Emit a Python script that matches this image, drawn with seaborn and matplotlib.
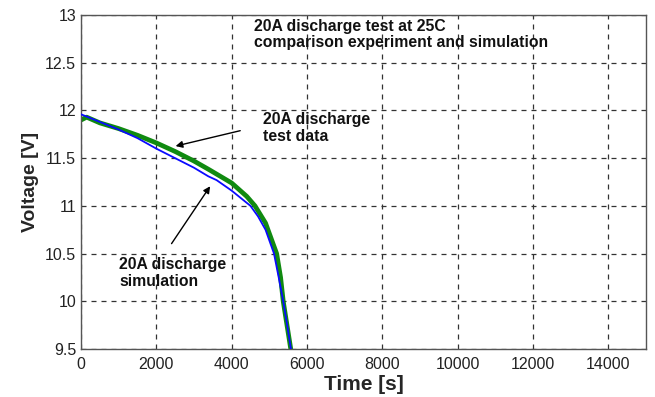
import matplotlib
matplotlib.use("Agg")
import matplotlib.pyplot as plt
import seaborn as sns
import pandas as pd

# Simulation (blue)
sim_time = [0, 500, 1000, 1500, 2000, 2500, 3000, 3380, 3600, 4000, 4500, 4700, 4900, 5125, 5250, 5370, 5475, 5575]
sim_volt = [11.96, 11.88, 11.80, 11.71, 11.60, 11.50, 11.40, 11.31, 11.27, 11.16, 11.00, 10.89, 10.75, 10.50, 10.25, 10.00, 9.75, 9.50]

# Test data (green)
test_time = [0, 150, 500, 1000, 1500, 2000, 2500, 3000, 3400, 4000, 4400, 4620, 4900, 5195, 5300, 5370, 5470, 5570]
test_volt = [11.90, 11.93, 11.87, 11.81, 11.74, 11.66, 11.57, 11.47, 11.38, 11.24, 11.10, 11.00, 10.82, 10.50, 10.25, 10.00, 9.75, 9.50]

x_ticks = [0, 2000, 4000, 6000, 8000, 10000, 12000, 14000]
y_ticks = [9.5, 10, 10.5, 11, 11.5, 12, 12.5, 13]
y_tick_labels = ["9.5", "10", "10.5", "11", "11.5", "12", "12.5", "13"]

title_text = "20A discharge test at 25C\ncomparison experiment and simulation"
test_label = "20A discharge\ntest data"
sim_label = "20A discharge\nsimulation"

sns.set_style("white")
plt.rcParams["font.family"] = ["Liberation Sans", "DejaVu Sans"]

fig, ax = plt.subplots(figsize=(6.55, 3.97), dpi=100)
fig.subplots_adjust(left=0.1237, right=0.986, top=0.962, bottom=0.121)

sim_df = pd.DataFrame({"t": sim_time, "v": sim_volt})
test_df = pd.DataFrame({"t": test_time, "v": test_volt})

sns.lineplot(data=sim_df, x="t", y="v", ax=ax, color="#0a0aff", lw=1.3, zorder=3)
sns.lineplot(data=test_df, x="t", y="v", ax=ax, color="#108a10", lw=3.4, zorder=2)

ax.set_xlim(0, 15000)
ax.set_ylim(9.5, 13)
ax.set_xticks(x_ticks)
ax.set_xticklabels([str(v) for v in x_ticks])
ax.set_yticks(y_ticks)
ax.set_yticklabels(y_tick_labels)
ax.tick_params(axis="both", labelsize=11.5, colors="#222222", direction="in", length=4)
ax.tick_params(axis="x", pad=6)
for lab in ax.get_xticklabels() + ax.get_yticklabels():
    lab.set_color("#222222")

ax.grid(True, linestyle=(0, (4, 4)), color="#333333", linewidth=0.9)
for s in ax.spines.values():
    s.set_color("#555555")
    s.set_linewidth(1.0)

ax.set_xlabel("Time [s]", fontsize=15, fontweight="bold", labelpad=2)
ax.set_ylabel("Voltage [V]", fontsize=14, fontweight="bold", labelpad=4)

txt_kw = dict(fontsize=11.3, fontweight="bold", va="top", ha="left", linespacing=1.1, color="#111111")
ax.text(4593, 12.96, title_text, **txt_kw)
ax.text(4830, 11.98, test_label, **txt_kw)
ax.text(1009, 10.46, sim_label, **txt_kw)

ax.annotate("", xy=(2440, 11.62), xytext=(4300, 11.795),
            arrowprops=dict(arrowstyle="-|>", color="black", lw=1.0, mutation_scale=10))
ax.annotate("", xy=(3470, 11.23), xytext=(2363, 10.58),
            arrowprops=dict(arrowstyle="-|>", color="black", lw=1.0, mutation_scale=10))

fig.savefig("out.png", dpi=100)
